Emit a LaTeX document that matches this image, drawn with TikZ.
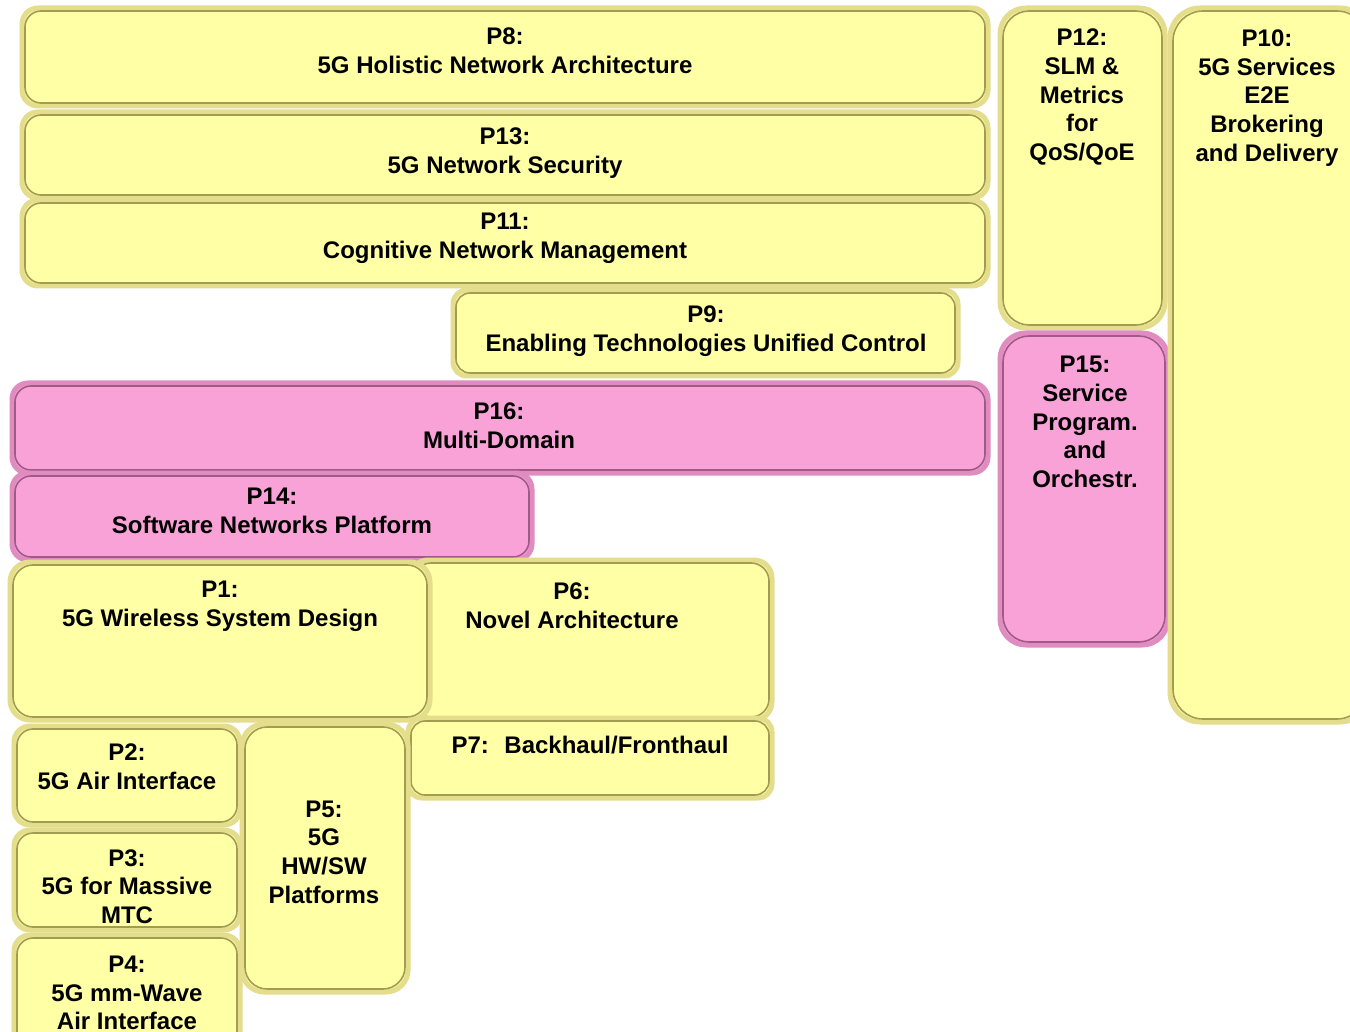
\documentclass[tikz,border=0pt]{standalone}
\usepackage{fontspec}
\setmainfont{Liberation Sans}
\definecolor{yfill}{HTML}{FFFFA6}
\definecolor{yrim}{HTML}{E4DE8C}
\definecolor{yline}{HTML}{A29C50}
\definecolor{pfill}{HTML}{F9A2D7}
\definecolor{prim}{HTML}{E08CC0}
\definecolor{pline}{HTML}{A05A86}
\tikzset{
  ybox/.style={draw=yrim, line width=5pt, fill=yfill, outer sep=0pt, inner sep=0pt},
  pbox/.style={draw=prim, line width=5pt, fill=pfill, outer sep=0pt, inner sep=0pt},
  yinner/.style={draw=yline, line width=1.6pt},
  pinner/.style={draw=pline, line width=1.6pt},
  lbl/.style={font=\fontsize{24}{28.7}\selectfont\bfseries, align=center, inner sep=0pt, text=black},
}
\newcommand\mybox[7]{%
  \node[#6box, rounded corners=#7pt, minimum width={#4-#2}, minimum height={#5-#3}, anchor=north west] (#1) at (#2,#3) {};
  \draw[#6inner, rounded corners=#7pt] ([shift={(3,3)}]#1.north west) rectangle ([shift={(-3,-3)}]#1.south east);
}
\begin{document}
\begin{tikzpicture}[x=1pt,y=-1pt]
\useasboundingbox (0,0) rectangle (1350,1032);
\clip (0,0) rectangle (1350,1032);
\fill[white] (0,0) rectangle (1350,1032);
% boxes
\mybox{p8}{22}{8}{988}{106}{y}{16}
\mybox{p13}{22}{112}{988}{198}{y}{16}
\mybox{p11}{22}{200}{988}{286}{y}{16}
\mybox{p9}{453}{290}{958}{376}{y}{14}
\mybox{p16}{12}{383}{988}{473}{p}{16}
\mybox{p14}{12}{473}{532}{560}{p}{16}
\mybox{p6}{410}{560}{772}{720}{y}{18}
\mybox{p1}{10}{562}{430}{720}{y}{20}
\mybox{p7}{408}{718}{772}{798}{y}{14}
\mybox{p2}{14}{726}{240}{825}{y}{16}
\mybox{p3}{14}{830}{240}{930}{y}{16}
\mybox{p4}{14}{935}{240}{1050}{y}{16}
\mybox{p5}{242}{724}{408}{992}{y}{22}
\mybox{p12}{1000}{8}{1165}{328}{y}{26}
\mybox{p15}{1000}{333}{1168}{645}{p}{26}
\mybox{p10}{1170}{8}{1370}{722}{y}{30}
% labels
\node[lbl] (p8t) at (505,51) {P8:\\5G Holistic Network Architecture};
\node[lbl] (p13t) at (505,153) {P13:\\5G Network Security};
\node[lbl] (p11t) at (505,238.5) {P11:\\Cognitive Network Management};
\node[lbl] (p9t) at (706,331) {P9:\\Enabling Technologies Unified Control};
\node[lbl] (p16t) at (499,425.5) {P16:\\Multi-Domain};
\node[lbl] (p14t) at (272,511) {P14:\\Software Networks Platform};
\node[lbl] (p1t) at (220,606) {P1:\\5G Wireless System Design};
\node[lbl] (p6t) at (572,606) {P6:\\Novel Architecture};
\node[lbl] (p7t) at (590,745) {P7:~ Backhaul/Fronthaul};
\node[lbl] (p2t) at (127,767) {P2:\\5G Air Interface};
\node[lbl] (p3t) at (127,886.5) {P3:\\5G for Massive\\MTC};
\node[lbl] (p4t) at (127,993) {P4:\\5G mm-Wave\\Air Interface};
\node[lbl] (p5t) at (324,852) {P5:\\5G\\HW/SW\\Platforms};
\node[lbl] (p12t) at (1082,97) {P12:\\SLM \&\\Metrics\\for\\QoS/QoE};
\node[lbl] (p15t) at (1085,422) {P15:\\Service\\Program.\\and\\Orchestr.};
\node[lbl] (p10t) at (1267,98) {P10:\\5G Services\\E2E\\Brokering\\and Delivery};
\end{tikzpicture}
\end{document}
